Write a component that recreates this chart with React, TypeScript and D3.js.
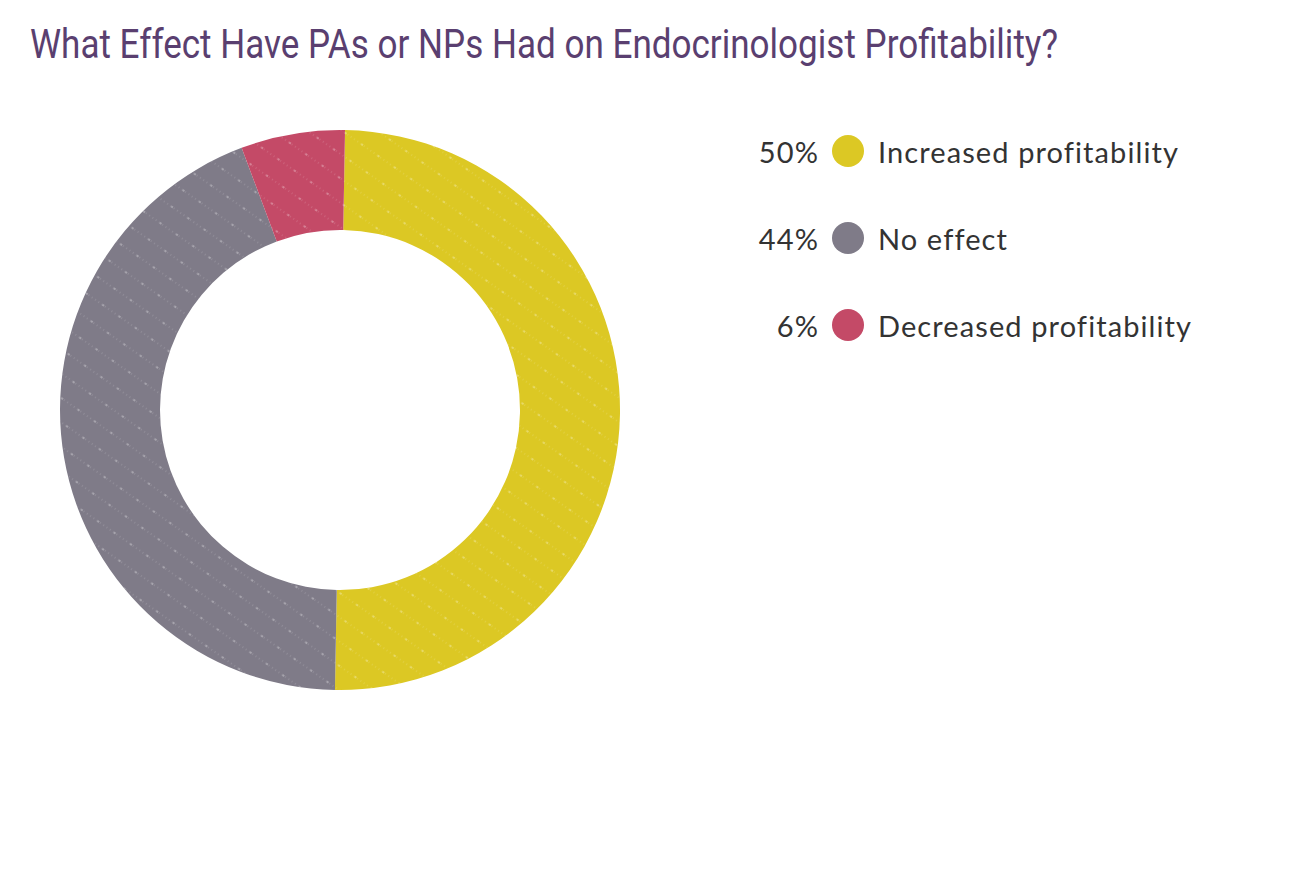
import React from 'react';
import * as d3 from 'd3';

const categories = ['Increased profitability', 'No effect', 'Decreased profitability'];
const values = [50, 44, 6];
const colors = ['#dcc824', '#7f7b88', '#c44a67'];
const title = 'What Effect Have PAs or NPs Had on Endocrinologist Profitability?';

const WIDTH = 1290;
const HEIGHT = 878;

type Slice = { label: string; value: number; color: string };

const data: Slice[] = categories.map((label, i) => ({ label, value: values[i], color: colors[i] }));

const Donut = ({ cx, cy, outer, inner }: { cx: number; cy: number; outer: number; inner: number }) => {
  const pie = d3.pie<Slice>()
    .value((d) => d.value)
    .sort(null)
    .startAngle(0.018)
    .endAngle(0.018 + Math.PI * 2);
  const arc = d3.arc<d3.PieArcDatum<Slice>>()
    .innerRadius(inner)
    .outerRadius(outer);
  const arcs = pie(data);

  return (
    <g transform={`translate(${cx}, ${cy})`}>
      {arcs.map((a) => (
        <path key={a.data.label} d={arc(a) as string} fill={a.data.color} />
      ))}
      {/* faint dotted hatching on top of the ring */}
      {arcs.map((a) => (
        <path key={`${a.data.label}-tex`} d={arc(a) as string} fill="url(#hatch)" />
      ))}
    </g>
  );
};

const Legend = ({ x, y, step }: { x: number; y: number; step: number }) => (
  <g
    transform={`translate(${x}, ${y})`}
    fontFamily="Lato, 'Open Sans', sans-serif"
    fontSize="29"
    letterSpacing="1.1"
    fill="#333"
  >
    {data.map((d, i) => (
      <g key={d.label} transform={`translate(0, ${i * step})`}>
        <text x={-29} y={0} textAnchor="end" dominantBaseline="central">{`${d.value}%`}</text>
        <circle cx={0} cy={0} r={16} fill={d.color} />
        <text x={30} y={0} dominantBaseline="central">{d.label}</text>
      </g>
    ))}
  </g>
);

const App = () => (
  <svg
    width={WIDTH}
    height={HEIGHT}
    style={{ position: 'absolute', left: 0, top: 0, background: '#fff' }}
  >
    <defs>
      <pattern id="hatch" width="20" height="20" patternUnits="userSpaceOnUse" patternTransform="rotate(35)">
        <line x1="0" y1="10" x2="20" y2="10" stroke="#fff" strokeOpacity="0.25" strokeWidth="1" strokeDasharray="1 3" />
        <circle cx="6" cy="10" r="0.9" fill="#fff" fillOpacity="0.45" />
      </pattern>
    </defs>
    <text
      x={30}
      y={58}
      fontFamily="Roboto, sans-serif"
      fontSize="40"
      fill="#5a3f70"
      textLength={1028}
      lengthAdjust="spacingAndGlyphs"
    >
      {title}
    </text>
    <Donut cx={340} cy={410} outer={280} inner={180} />
    <Legend x={848} y={151} step={87} />
  </svg>
);

export default App;
